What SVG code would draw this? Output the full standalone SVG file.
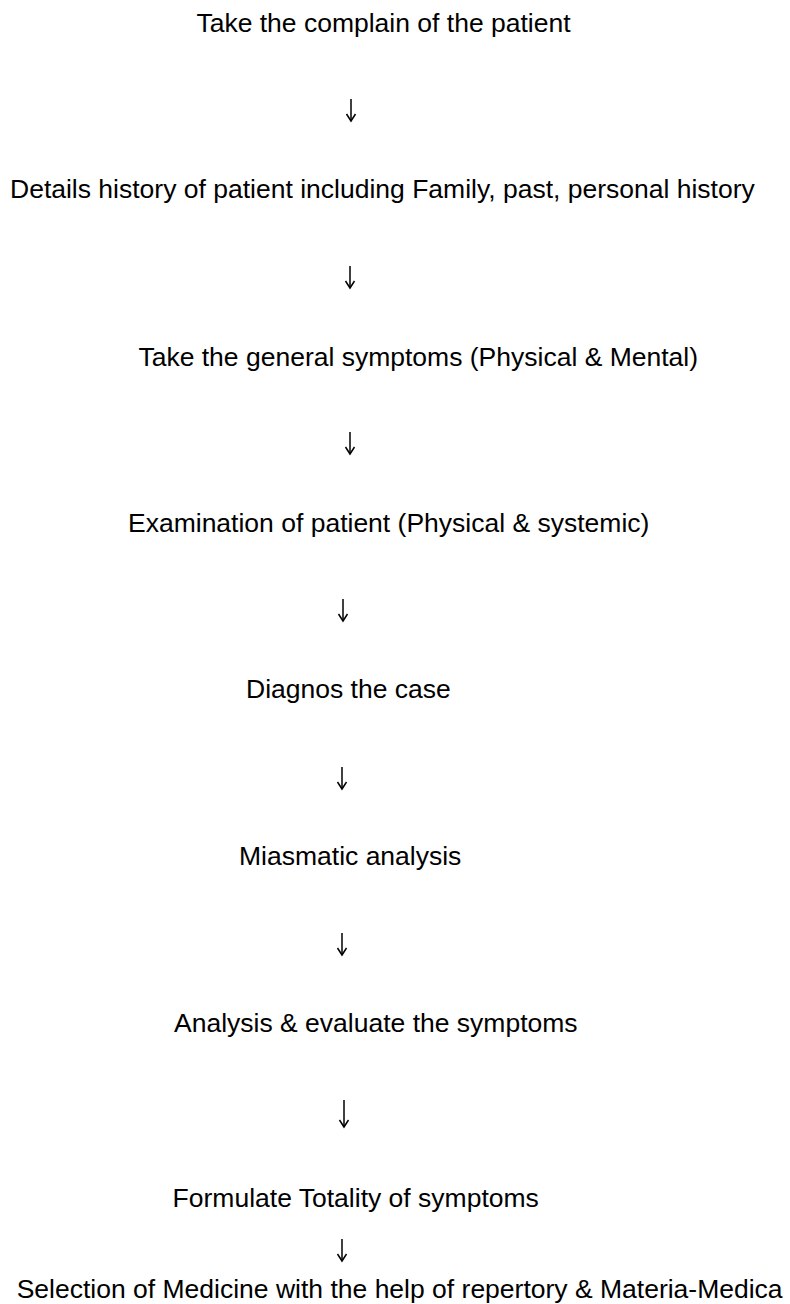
<svg xmlns="http://www.w3.org/2000/svg" width="790" height="1304" viewBox="0 0 790 1304">
  <style>
    .t { font-family: "Liberation Sans", Arial, sans-serif; font-size: 26.5px; fill: #000; }
    .c { stroke: #000; stroke-width: 1.5; fill: none; }
  </style>
  <defs>
    <marker id="ah" viewBox="-1 -6 11 12" refX="8" refY="0" markerWidth="11" markerHeight="12" markerUnits="userSpaceOnUse" orient="auto">
      <path d="M1,-4.5 L8,0 L1,4.5" fill="none" stroke="#000" stroke-width="1.5"/>
    </marker>
  </defs>
  <rect width="790" height="1304" fill="#fff"/>
  <g id="connectors">
    <line class="c" x1="351" y1="99" x2="351" y2="121" marker-end="url(#ah)"/>
    <line class="c" x1="350" y1="266" x2="350" y2="288" marker-end="url(#ah)"/>
    <line class="c" x1="350" y1="432" x2="350" y2="454" marker-end="url(#ah)"/>
    <line class="c" x1="343" y1="599" x2="343" y2="621" marker-end="url(#ah)"/>
    <line class="c" x1="342" y1="767" x2="342" y2="789" marker-end="url(#ah)"/>
    <line class="c" x1="342" y1="933" x2="342" y2="955" marker-end="url(#ah)"/>
    <line class="c" x1="344" y1="1100" x2="344" y2="1127" marker-end="url(#ah)"/>
    <line class="c" x1="342" y1="1239" x2="342" y2="1261" marker-end="url(#ah)"/>
  </g>
  <g id="n1"><text class="t" x="196.4" y="31.7">Take the complain of the patient</text></g>
  <g id="n2"><text class="t" x="10" y="198.3">Details history of patient including Family, past, personal history</text></g>
  <g id="n3"><text class="t" x="138.4" y="366">Take the general symptoms (Physical &amp; Mental)</text></g>
  <g id="n4"><text class="t" x="128" y="531.7">Examination of patient (Physical &amp; systemic)</text></g>
  <g id="n5"><text class="t" x="246" y="698">Diagnos the case</text></g>
  <g id="n6"><text class="t" x="239" y="865">Miasmatic analysis</text></g>
  <g id="n7"><text class="t" x="174" y="1031.7">Analysis &amp; evaluate the symptoms</text></g>
  <g id="n8"><text class="t" x="172.6" y="1206.7">Formulate Totality of symptoms</text></g>
  <g id="n9"><text class="t" x="16.7" y="1298">Selection of Medicine with the help of repertory &amp; Materia-Medica</text></g>
</svg>
